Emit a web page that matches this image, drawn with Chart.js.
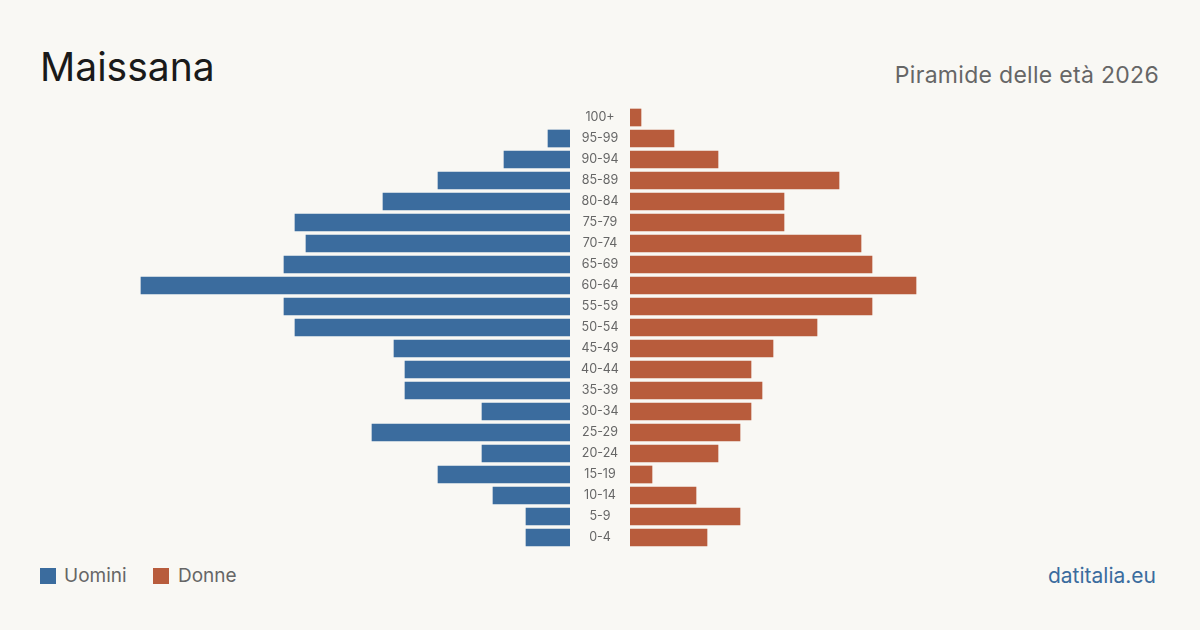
<!DOCTYPE html>
<html><head><meta charset="utf-8">
<script src="https://cdn.jsdelivr.net/npm/chart.js@4/dist/chart.umd.min.js"></script>
<style>
html,body{margin:0;padding:0;background:#f9f8f4;}
body{width:1200px;height:630px;position:relative;overflow:hidden;font-family:Inter,"Noto Sans",sans-serif;}
.abs{position:absolute;white-space:nowrap;line-height:1;}
#title{left:40px;top:47px;font-size:39px;color:#1a1a1a;font-weight:400;}
#sub{right:41px;top:64px;font-size:23px;color:#666;letter-spacing:0.3px;}
#foot{right:44px;top:565px;font-size:21px;color:#3b6c9e;}
.sw{position:absolute;width:16px;height:16px;top:568px;}
.lg{top:566px;font-size:19px;color:#666;}
#left{position:absolute;left:40px;top:107px;width:530px;height:441px;}
#right{position:absolute;left:570px;top:107px;width:590px;height:441px;}
</style></head><body>
<div class="abs" id="title">Maissana</div>
<div class="abs" id="sub">Piramide delle età 2026</div>
<div class="sw" style="left:40px;background:#3b6c9e"></div>
<div class="abs lg" style="left:64px">Uomini</div>
<div class="sw" style="left:153px;background:#b85c3c"></div>
<div class="abs lg" style="left:178px">Donne</div>
<div class="abs" id="foot">datitalia.eu</div>
<div id="left"><canvas id="cl"></canvas></div>
<div id="right"><canvas id="cr"></canvas></div>
<script>
const ageGroups = ["100+","95-99","90-94","85-89","80-84","75-79","70-74","65-69","60-64","55-59","50-54","45-49","40-44","35-39","30-34","25-29","20-24","15-19","10-14","5-9","0-4"];
const men   = [0,2,6,12,17,25,24,26,39,26,25,16,15,15,8,18,8,12,7,4,4];
const women = [1,4,8,19,14,14,21,22,26,22,17,13,11,12,11,10,8,2,6,10,7];
const axisMax = 48.18;
const blue = "#3b6c9e", orange = "#b85c3c";

const common = {
  responsive:true, maintainAspectRatio:false, animation:false,
  layout:{padding:0},
  plugins:{legend:{display:false}, tooltip:{enabled:false}},
  indexAxis:'y'
};

new Chart(document.getElementById('cl'), {
  type:'bar',
  data:{labels:ageGroups, datasets:[{label:'Uomini', data:men.map(v => v === 0 ? null : v), backgroundColor:blue, barThickness:17, borderWidth:0}]},
  options:Object.assign({}, common, {
    scales:{
      x:{display:false, reverse:true, min:0, max:axisMax},
      y:{display:false}
    }
  })
});

const midLabels = {
  id:'midLabels',
  afterDraw(chart){
    const ctx = chart.ctx, y = chart.scales.y;
    ctx.save();
    ctx.fillStyle = '#666';
    ctx.font = '12.5px Inter, "Noto Sans", sans-serif';
    ctx.textAlign = 'center';
    ctx.textBaseline = 'middle';
    const cx = (y.left + y.right)/2;
    chart.data.labels.forEach((l,i)=>{ ctx.fillText(l, cx, y.getPixelForValue(i)); });
    ctx.restore();
  }
};

new Chart(document.getElementById('cr'), {
  type:'bar',
  data:{labels:ageGroups, datasets:[{label:'Donne', data:women.map(v => v === 0 ? null : v), backgroundColor:orange, barThickness:17, borderWidth:0}]},
  options:Object.assign({}, common, {
    scales:{
      x:{display:false, min:0, max:axisMax},
      y:{display:true, grid:{display:false}, border:{display:false}, ticks:{display:false}, afterFit(s){ s.width = 60; }}
    }
  }),
  plugins:[midLabels]
});
</script>
</body></html>
